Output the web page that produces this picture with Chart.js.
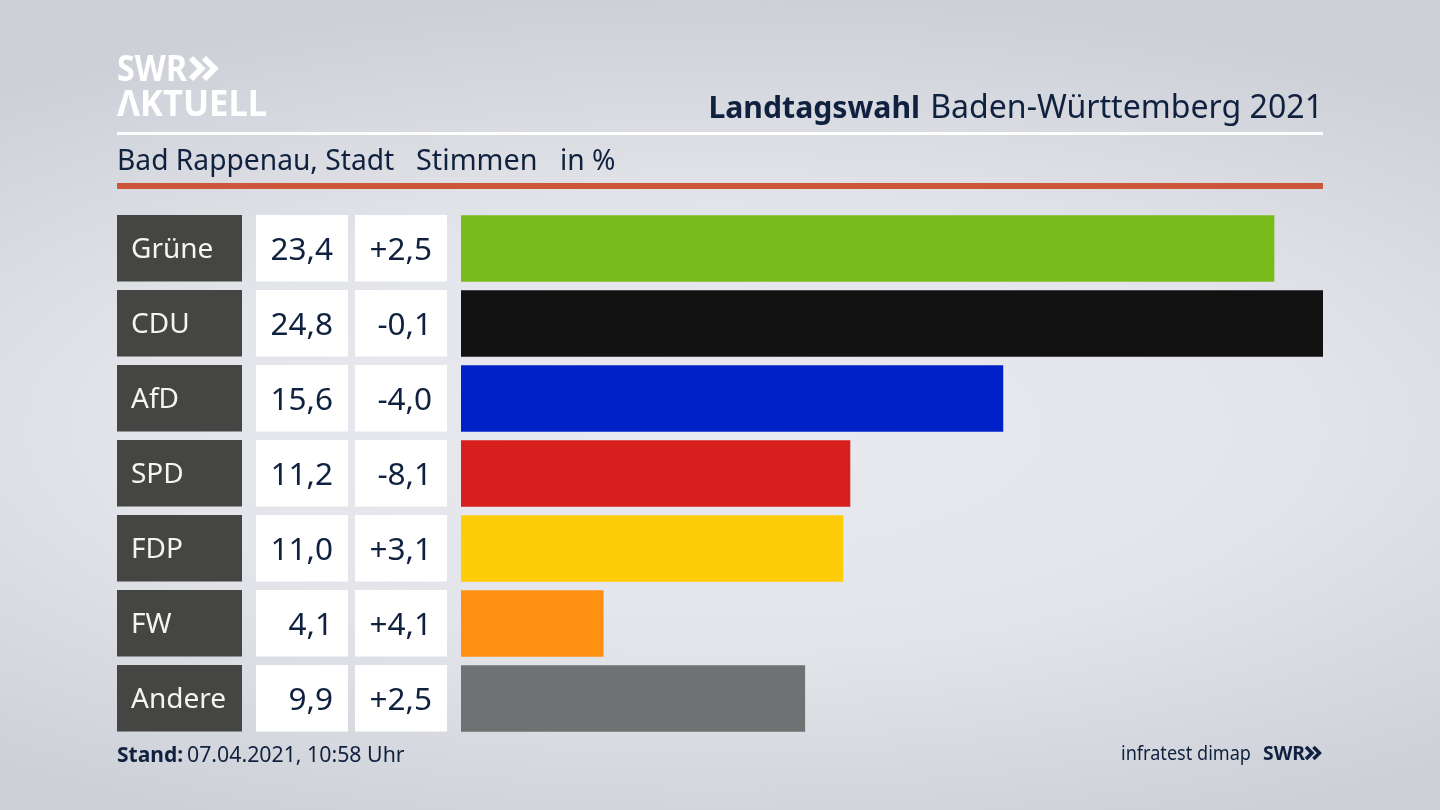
<!DOCTYPE html>
<html lang="de">
<head>
<meta charset="utf-8">
<title>Landtagswahl Baden-Württemberg 2021</title>
<script src="https://cdn.jsdelivr.net/npm/chart.js@4"></script>
<style>
  html, body { margin: 0; padding: 0; width: 1440px; height: 810px; overflow: hidden; }
  body { background: radial-gradient(ellipse 1150px 430px at 50% 53%, #e9eaef 0%, #e3e5ea 50%, #cdd0d7 100%); }
  canvas { display: block; }
</style>
</head>
<body>
<canvas id="resultChart" width="1440" height="810"></canvas>
<script>
const parties = ['Grüne', 'CDU', 'AfD', 'SPD', 'FDP', 'FW', 'Andere'];
const shares = [23.4, 24.8, 15.6, 11.2, 11.0, 4.1, 9.9];
const changes = ['+2,5', '-0,1', '-4,0', '-8,1', '+3,1', '+4,1', '+2,5'];
const partyColors = ['#78bc1b', '#121212', '#0021c8', '#d71f1d', '#ffcc08', '#ff9012', '#707173'];

const FONT = '"Noto Sans", sans-serif';
const NAVY = '#10213f';

function text(c, str, x, y, font, color, align, maxW) {
  c.font = font;
  c.fillStyle = color;
  c.textAlign = align || 'left';
  c.textBaseline = 'alphabetic';
  if (maxW) c.fillText(str, x, y, maxW);
  else c.fillText(str, x, y);
}

function chevrons(c, x, y, h, w, color) {
  c.strokeStyle = color;
  c.lineWidth = w;
  c.lineJoin = 'miter';
  [0, h * 0.62].forEach(dx => {
    c.beginPath();
    c.moveTo(x + dx, y);
    c.lineTo(x + dx + h * 0.5, y + h / 2);
    c.lineTo(x + dx, y + h);
    c.stroke();
  });
}

// table cells left of the bars, follow the category scale
const rowCells = {
  id: 'rowCells',
  afterDatasetsDraw(chart) {
    const c = chart.ctx;
    const y = chart.scales.y;
    c.save();
    parties.forEach((name, i) => {
      const mid = y.getPixelForValue(i);
      const top = mid - 33.5;
      c.fillStyle = '#454543';
      c.fillRect(117, top, 125, 66.5);
      c.fillStyle = '#ffffff';
      c.fillRect(256, top, 92, 66.5);
      c.fillRect(355, top, 92, 66.5);
      text(c, name, 131, mid + 9, '28px ' + FONT, '#f4f4f2');
      text(c, shares[i].toFixed(1).replace('.', ','), 333, mid + 11, '31.5px ' + FONT, NAVY, 'right');
      text(c, changes[i], 432, mid + 11, '31.5px ' + FONT, NAVY, 'right');
    });
    c.restore();
  }
};

const header = {
  id: 'header',
  afterDraw(chart) {
    const c = chart.ctx;
    c.save();
    // logo
    text(c, 'SWR', 117, 81, 'bold 35px ' + FONT, '#ffffff', 'left', 70);
    chevrons(c, 191, 58, 21, 6, '#ffffff');
    text(c, 'ΛKTUELL', 117, 116, 'bold 36px ' + FONT, '#ffffff', 'left', 150);
    // title
    text(c, 'Baden-Württemberg 2021', 1323, 118, '32.1px ' + FONT, NAVY, 'right');
    text(c, 'Landtagswahl', 920, 118, 'bold 30.2px ' + FONT, NAVY, 'right');
    c.fillStyle = '#ffffff';
    c.fillRect(117, 132, 1206, 3);
    // subtitle
    text(c, 'Bad Rappenau, Stadt', 117, 170, '28.2px ' + FONT, NAVY);
    text(c, 'Stimmen', 416, 170, '28.8px ' + FONT, NAVY);
    text(c, 'in %', 560, 170, '28.2px ' + FONT, NAVY);
    c.fillStyle = '#cd5539';
    c.fillRect(117, 183, 1206, 6);
    // footer
    text(c, 'Stand:', 117, 762, 'bold 21px ' + FONT, NAVY);
    text(c, '07.04.2021, 10:58 Uhr', 187, 762, '21.3px ' + FONT, NAVY);
    text(c, 'infratest dimap', 1251, 760, '19px ' + FONT, NAVY, 'right', 130);
    text(c, 'SWR', 1263, 760, 'bold 20px ' + FONT, NAVY, 'left', 42);
    chevrons(c, 1306, 747, 12, 3.5, NAVY);
    c.restore();
  }
};

new Chart(document.getElementById('resultChart'), {
  type: 'bar',
  data: {
    labels: parties,
    datasets: [{
      data: shares,
      backgroundColor: partyColors,
      borderWidth: 0,
      barPercentage: 0.885,
      categoryPercentage: 1
    }]
  },
  options: {
    indexAxis: 'y',
    responsive: false,
    animation: false,
    layout: { padding: { left: 461, right: 117, top: 211, bottom: 74 } },
    scales: {
      x: { display: false, min: 0, max: 24.8 },
      y: { display: false }
    },
    plugins: { legend: { display: false }, tooltip: { enabled: false } }
  },
  plugins: [rowCells, header]
});
</script>
</body>
</html>
